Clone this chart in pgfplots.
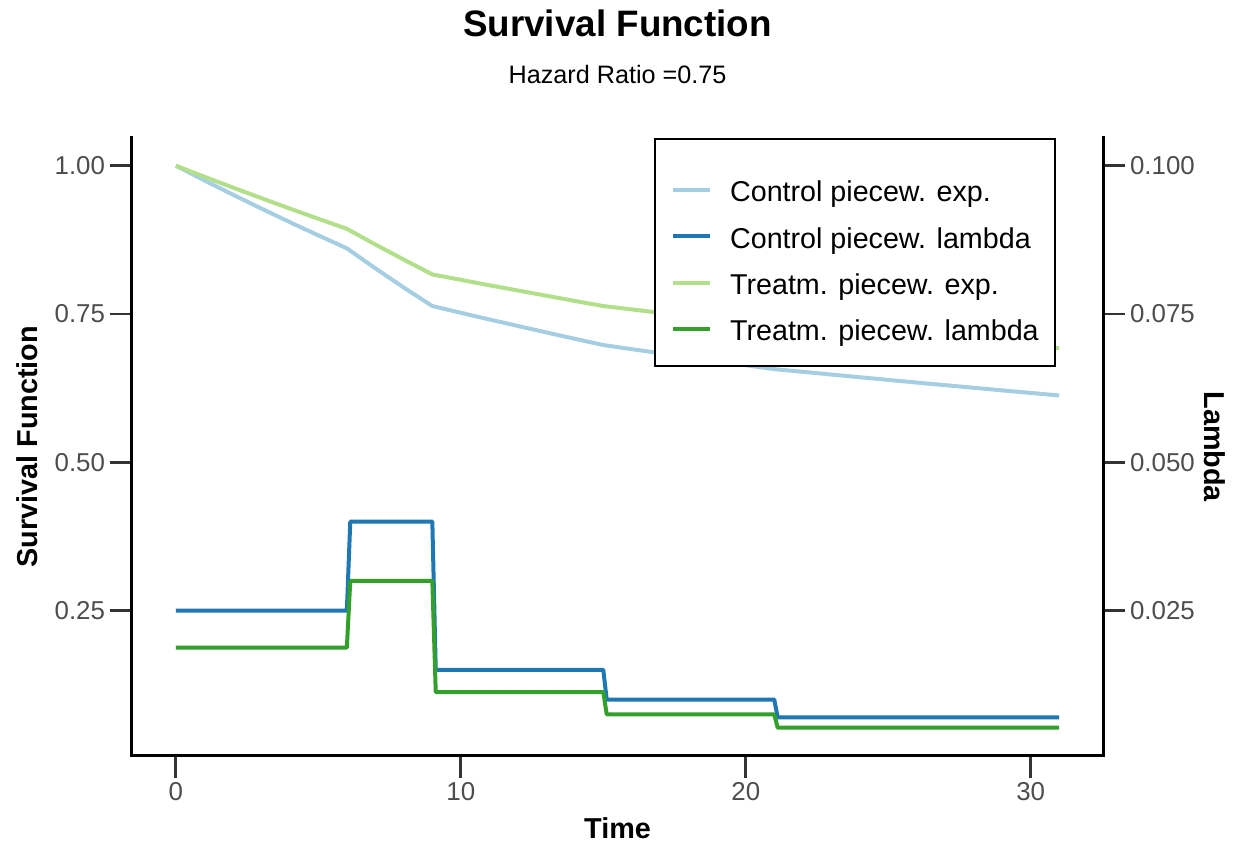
\documentclass[border=0pt]{standalone}
\usepackage{pgfplots}
\usepackage{pgfplotstable}
\pgfplotsset{compat=1.18}
\usepackage{fontspec}
\setmainfont{Liberation Sans}
\definecolor{cLB}{HTML}{A6CEE3}
\definecolor{cDB}{HTML}{1F78B4}
\definecolor{cLG}{HTML}{B2DF8A}
\definecolor{cDG}{HTML}{33A02C}
\definecolor{tickgray}{HTML}{333333}
\definecolor{labgray}{HTML}{4D4D4D}

% survival functions (piecewise exponential), control and treatment
\pgfplotstableread{
t ctrl trt
0 1.0000 1.0000
1 0.9753 0.9814
2 0.9512 0.9632
3 0.9277 0.9453
4 0.9048 0.9277
5 0.8825 0.9105
6 0.8607 0.8936
7 0.8270 0.8672
8 0.7945 0.8416
9 0.7634 0.8167
10 0.7520 0.8076
11 0.7408 0.7985
12 0.7298 0.7896
13 0.7189 0.7808
14 0.7082 0.7720
15 0.6977 0.7634
16 0.6907 0.7577
17 0.6839 0.7520
18 0.6771 0.7464
19 0.6703 0.7408
20 0.6637 0.7353
21 0.6570 0.7298
22 0.6525 0.7260
23 0.6479 0.7222
24 0.6434 0.7184
25 0.6389 0.7146
26 0.6344 0.7109
27 0.6300 0.7071
28 0.6256 0.7034
29 0.6212 0.6998
30 0.6169 0.6961
31 0.6126 0.6925
}\survtable

% piecewise hazards (lambda)
\pgfplotstableread{
t ctrl trt
0 0.025 0.01875
6 0.025 0.01875
6.12 0.040 0.03000
9 0.040 0.03000
9.12 0.015 0.01125
15 0.015 0.01125
15.12 0.010 0.00750
21 0.010 0.00750
21.12 0.007 0.00525
31 0.007 0.00525
}\lambdatable

\pgfplotsset{
  common/.style={
    at={(0,0)}, anchor=south west, scale only axis,
    width=728.7pt, height=463.7pt,
    xmin=-1.55, xmax=32.55,
    tick align=outside, major tick length=16.5pt,
    tick style={line width=2.2pt, color=tickgray},
    axis line style={line width=2.4pt, black, -, line cap=rect},
    ticklabel style={font=\fontsize{19.4}{23}\selectfont, text=labgray},
    label style={font=\bfseries\fontsize{21.6}{26}\selectfont},
  },
}

\begin{document}
\begin{tikzpicture}
\useasboundingbox (-98.8pt,-64.6pt) rectangle (829.7pt,566.9pt);
\begin{axis}[common,
  ymin=0.005, ymax=1.0474,
  axis x line*=bottom, axis y line*=left,
  xtick={0,10,20,30}, xticklabels={0,10,20,30},
  ytick={0.25,0.5,0.75,1}, yticklabels={0.25,0.50,0.75,1.00},
  xlabel={Time}, ylabel={Survival Function},
  xlabel style={at={(axis description cs:0.5,-0.1330)}, anchor=base, inner sep=0pt},
  ylabel style={at={(axis description cs:-0.0972,0.5)}, anchor=base, inner sep=0pt},
  title={Survival Function},
  title style={at={(axis description cs:0.5,1.1506)}, anchor=base, font=\bfseries\fontsize{27.6}{33}\selectfont},
]
\addplot[cLB, line width=3pt, line join=round] table[x=t, y=ctrl] {\survtable};
\addplot[cLG, line width=3pt, line join=round] table[x=t, y=trt] {\survtable};
\end{axis}
\begin{axis}[common,
  ymin=0.0005, ymax=0.10474,
  axis x line=none, axis y line*=right,
  ytick={0.025,0.05,0.075,0.1}, yticklabels={0.025,0.050,0.075,0.100},
  ylabel={Lambda},
  ylabel style={at={(axis description cs:1.1036,0.5)}, anchor=base, rotate=180, inner sep=0pt},
  title={Hazard Ratio =0.75},
  title style={at={(axis description cs:0.5,1.0738)}, anchor=base, font=\fontsize{18.9}{23}\selectfont},
  legend image code/.code={\draw[#1, line width=3pt] (0pt,8.8pt) -- (27.75pt,8.8pt);},
  legend style={at={(axis description cs:0.9514,1)}, anchor=north east,
    draw=black, line width=1.75pt, fill=white,
    inner xsep=12.2pt, inner ysep=14pt,
    font=\fontsize{21.5}{26}\selectfont,
    row sep=13.7pt, column sep=13.5pt,
    nodes={inner sep=0pt, text depth=5pt, text=black},
    cells={anchor=base west}},
]
\addlegendimage{cLB, line width=3pt}
\addlegendentry{\rule{0pt}{33.3pt}Control piecew. exp.}
\addplot[cDB, line width=3pt, line join=round] table[x=t, y=ctrl] {\lambdatable};
\addlegendentry{\rule{0pt}{16pt}Control piecew. lambda}
\addlegendimage{cLG, line width=3pt}
\addlegendentry{\rule{0pt}{16pt}Treatm. piecew. exp.}
\addplot[cDG, line width=3pt, line join=round] table[x=t, y=trt] {\lambdatable};
\addlegendentry{\rule{0pt}{16pt}Treatm. piecew. lambda}
\end{axis}
\end{tikzpicture}
\end{document}
